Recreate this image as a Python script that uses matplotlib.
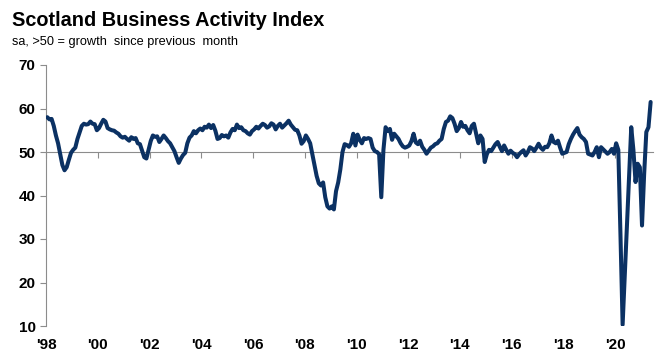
import matplotlib
matplotlib.use("Agg")
import matplotlib.pyplot as plt
import numpy as np

plt.rcParams['font.family'] = ['Liberation Sans', 'DejaVu Sans']

# Monthly index, Jan 1998 .. May 2021
y1998 = [58.0, 57.5, 57.6, 56.0, 53.8, 52.0, 49.5, 47.0, 45.8, 46.5, 48.2, 49.8]
y1999 = [50.5, 51.0, 53.0, 54.5, 56.0, 56.5, 56.3, 56.4, 57.0, 56.5, 56.4, 55.0]
y2000 = [55.5, 56.5, 57.4, 57.0, 55.5, 55.2, 55.0, 54.9, 54.5, 54.2, 53.6, 53.3]
y2001 = [53.5, 53.0, 52.6, 53.4, 53.0, 53.2, 52.0, 51.8, 50.3, 48.8, 48.5, 50.5]
y2002 = [52.5, 53.8, 53.5, 53.6, 52.3, 53.0, 53.8, 53.2, 52.5, 52.0, 51.1, 50.2]
y2003 = [48.8, 47.5, 48.5, 49.3, 49.8, 52.0, 53.3, 53.8, 54.8, 54.3, 55.0, 55.4]
y2004 = [55.0, 55.8, 55.6, 56.3, 55.5, 56.2, 54.9, 53.0, 53.2, 53.9, 53.6, 53.8]
y2005 = [53.3, 54.5, 55.3, 55.0, 56.3, 55.5, 55.7, 55.0, 54.8, 54.3, 54.0, 54.8]
y2006 = [55.2, 55.8, 55.4, 56.0, 56.5, 56.2, 55.6, 55.9, 56.6, 56.3, 55.2, 56.0]
y2007 = [56.5, 55.6, 56.1, 56.6, 57.2, 56.3, 55.7, 55.1, 55.0, 53.8, 51.9, 52.5]
y2008 = [53.8, 53.0, 52.0, 49.5, 47.0, 44.5, 42.8, 42.3, 43.0, 39.6, 37.5, 37.0]
y2009 = [37.5, 36.8, 41.0, 43.0, 46.0, 50.0, 51.8, 51.6, 51.2, 52.0, 54.2, 51.5]
y2010 = [54.0, 52.8, 52.0, 53.2, 53.0, 53.2, 53.0, 51.0, 50.2, 50.0, 49.5, 39.6]
y2011 = [50.5, 55.7, 54.8, 55.3, 52.8, 54.2, 53.6, 53.0, 52.0, 51.3, 51.0, 51.2]
y2012 = [51.5, 52.5, 54.2, 52.2, 51.8, 52.6, 51.2, 50.5, 49.6, 50.3, 51.0, 51.3]
y2013 = [51.8, 52.0, 52.6, 53.0, 55.3, 56.9, 57.2, 58.2, 57.8, 56.5, 54.8, 55.5]
y2014 = [56.9, 55.8, 56.0, 55.0, 54.3, 56.0, 56.5, 54.2, 52.0, 53.8, 53.0, 47.7]
y2015 = [49.5, 50.5, 50.2, 51.0, 51.8, 52.3, 51.2, 50.2, 51.5, 50.5, 49.6, 50.3]
y2016 = [49.8, 49.5, 48.8, 49.5, 50.0, 50.4, 49.2, 50.0, 51.1, 50.8, 50.2, 51.0]
y2017 = [51.9, 51.0, 50.5, 51.2, 51.1, 52.0, 53.8, 52.3, 52.0, 52.6, 51.0, 49.6]
y2018 = [49.8, 50.0, 51.8, 53.0, 54.0, 54.8, 55.5, 54.0, 53.4, 53.0, 52.3, 49.6]
y2019 = [49.4, 49.2, 50.0, 51.1, 48.8, 51.1, 50.6, 50.1, 49.6, 50.0, 50.7, 49.6]
y2020 = [52.0, 50.5, 31.0, 10.3, 21.5, 33.0, 44.5, 55.7, 50.5, 43.1, 47.3, 46.5]
y2021 = [33.1, 45.0, 54.6, 55.7, 61.5]

values = (y1998 + y1999 + y2000 + y2001 + y2002 + y2003 + y2004 + y2005 +
          y2006 + y2007 + y2008 + y2009 + y2010 + y2011 + y2012 + y2013 +
          y2014 + y2015 + y2016 + y2017 + y2018 + y2019 + y2020 + y2021)

tick_labels = ["'98", "'00", "'02", "'04", "'06", "'08", "'10", "'12",
               "'14", "'16", "'18", "'20"]
y_ticks = [10, 20, 30, 40, 50, 60, 70]

W, H = 664, 363
fig = plt.figure(figsize=(W / 100, H / 100), dpi=100)
ax = fig.add_axes([46 / W, 1 - 326 / H, (653 - 46) / W, (326 - 65) / H])

x = np.arange(len(values))
ax.plot(x, values, color='#0b3163', lw=2.9, solid_joinstyle='round',
        solid_capstyle='round', zorder=3)

gray = '#8c8c8c'
ax.set_ylim(10, 70)
ax.set_xlim(-0.6, len(values) + 0.1)
ax.set_yticks(y_ticks)
ax.set_yticklabels([str(v) for v in y_ticks], fontsize=11, fontweight='bold')
ax.tick_params(axis='y', direction='out', length=4, width=0.8, color=gray, pad=3.5)

for s in ('top', 'right'):
    ax.spines[s].set_visible(False)
ax.spines['left'].set_color(gray)
ax.spines['left'].set_linewidth(0.8)
ax.spines['bottom'].set_position(('data', 50))
ax.spines['bottom'].set_color(gray)
ax.spines['bottom'].set_linewidth(0.8)

tick_pos = [24 * i - 0.5 for i in range(len(tick_labels))]
ax.set_xticks(tick_pos)
ax.set_xticklabels([])
ax.tick_params(axis='x', direction='out', length=4, width=0.8, color=gray)

sec = ax.secondary_xaxis(0)
sec.set_xticks(tick_pos)
sec.set_xticklabels(tick_labels, fontsize=11, fontweight='bold')
sec.tick_params(axis='x', length=0, pad=8.5)
sec.spines['bottom'].set_visible(False)

fig.text(12 / W, 1 - 20 / H, 'Scotland Business Activity Index', fontsize=14.3,
         fontweight='bold', ha='left', va='center')
fig.text(12 / W, 1 - 42 / H, 'sa, >50 = growth  since previous  month',
         fontsize=9.2, ha='left', va='center')

fig.savefig('out.png', dpi=100)
